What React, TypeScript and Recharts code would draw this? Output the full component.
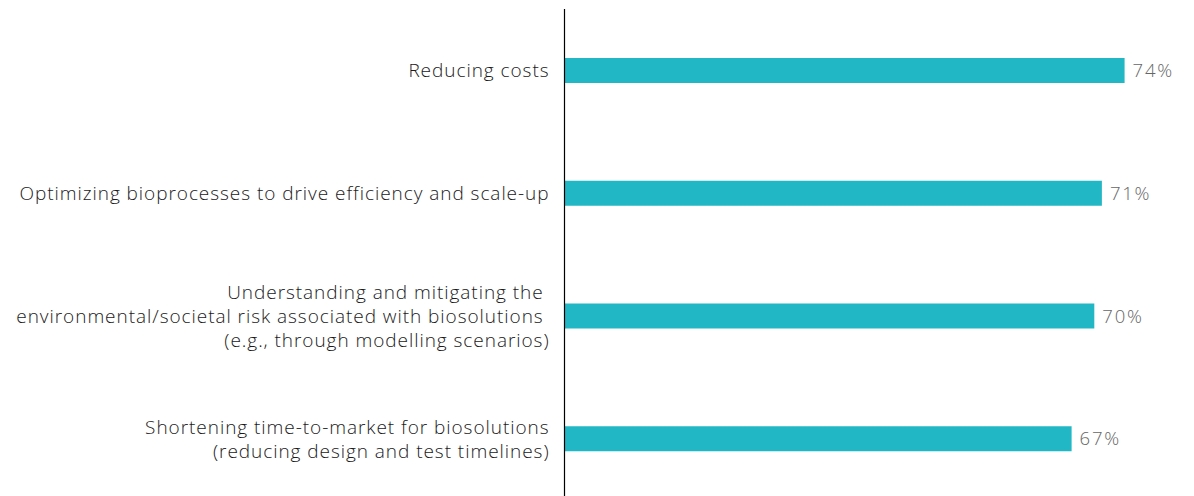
import { BarChart, Bar, XAxis, YAxis, LabelList } from "recharts";

const categories = [
  ["Reducing costs"],
  ["Optimizing bioprocesses to drive efficiency and scale-up"],
  [
    "Understanding and mitigating the ",
    "environmental/societal risk associated with biosolutions ",
    "(e.g., through modelling scenarios)",
  ],
  [
    "Shortening time-to-market for biosolutions",
    "(reducing design and test timelines)",
  ],
];
const shares = [74, 71, 70, 67];

const data = categories.map((lines, i) => ({
  name: lines.join("\n"),
  value: shares[i],
}));

const FONT = "'Open Sans', 'Noto Sans', sans-serif";

function CategoryTick(props: any) {
  const { x, y, payload } = props;
  const lines: string[] = String(payload.value).split("\n");
  const lineH = 24;
  const startY = y - ((lines.length - 1) * lineH) / 2;
  return (
    <text
      x={x}
      y={startY}
      textAnchor="end"
      fill="#1a1a1a"
      fontSize={19}
      fontWeight={300}
      letterSpacing={0.95}
      fontFamily={FONT}
      dominantBaseline="central"
    >
      {lines.map((l, i) => (
        <tspan key={i} x={x} y={startY + i * lineH} dominantBaseline="central">
          {l}
        </tspan>
      ))}
    </text>
  );
}

export default function App() {
  return (
    <div
      style={{
        position: "fixed",
        top: 0,
        left: 0,
        width: 1194,
        height: 496,
        overflow: "hidden",
        background: "#fff",
      }}
    >
      <BarChart
        width={1194}
        height={500}
        data={data}
        layout="vertical"
        margin={{ top: 9, right: 24, bottom: 0, left: 0 }}
      >
        <XAxis type="number" domain={[0, 80]} hide />
        <YAxis
          type="category"
          dataKey="name"
          width={564.5}
          tickLine={false}
          axisLine={{ stroke: "#000", strokeWidth: 1.2 }}
          tick={<CategoryTick />}
          tickSize={0}
          tickMargin={15}
          interval={0}
        />
        <Bar dataKey="value" fill="#22b7c4" barSize={25} isAnimationActive={false}>
          <LabelList
            dataKey="value"
            position="right"
            offset={8}
            formatter={(v: any) => `${v}%`}
            fill="#666"
            fontSize={18.5}
            fontFamily={FONT}
            fontWeight={300}
            letterSpacing={1.8}
          />
        </Bar>
      </BarChart>
    </div>
  );
}
